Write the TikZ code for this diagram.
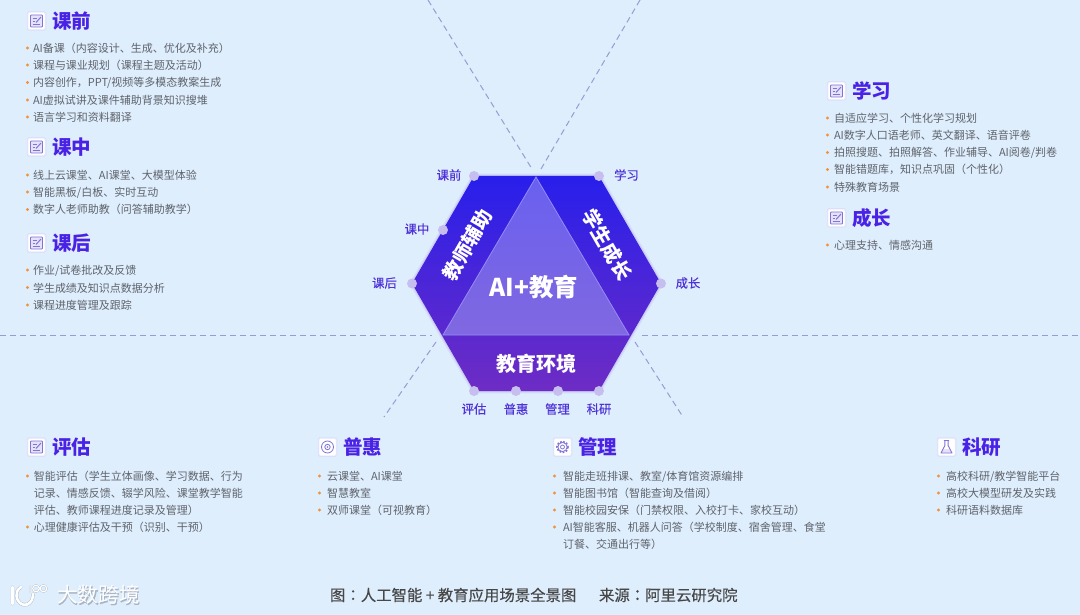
\documentclass[tikz,border=0pt]{standalone}
\usepackage{fontspec}
\setmainfont{Noto Sans CJK SC}
\newfontfamily\medf[FakeBold=0.35]{Noto Sans CJK SC}
\newfontfamily\tcmed[FakeBold=0.35]{Noto Sans CJK TC}
\usetikzlibrary{calc}
\definecolor{bgc}{HTML}{DFEEFC}
\definecolor{ttl}{HTML}{4A22E6}
\definecolor{lbl}{HTML}{4F33D8}
\definecolor{bodyc}{HTML}{5E636C}
\definecolor{orng}{HTML}{F0913C}
\definecolor{dashc}{HTML}{979CD4}
\definecolor{dotc}{HTML}{C6BEEE}
\definecolor{icn}{HTML}{7F75D8}
\definecolor{icnf}{HTML}{E6E2FA}
\definecolor{hextop}{HTML}{281FEB}
\definecolor{hexbot}{HTML}{6E2CC4}
\definecolor{tritop}{HTML}{6960F0}
\definecolor{tribot}{HTML}{8068E0}
\definecolor{triedge}{HTML}{968CF5}
\definecolor{wmshadow}{HTML}{A9B4C4}
\tikzset{
  x=1pt,y=-1pt,
  every node/.style={inner sep=0pt,outer sep=0pt},
  body/.style={anchor=west,text=bodyc,font=\fontsize{11}{12}\selectfont,text height=9pt,text depth=0pt},
  bul/.style={circle,fill=orng,minimum size=3.4pt},
  head/.style={anchor=west,text=ttl,font=\fontsize{19.5}{20}\selectfont\bfseries},
  ibox/.style={fill=white,rounded corners=1.5pt,minimum size=18pt,draw=ttl!30!white,draw opacity=.3,line width=1.5pt},
  dsh/.style={dashc,dash pattern=on 6pt off 4pt,line width=1pt},
  vdot/.style={circle,fill=dotc,minimum size=10pt},
  lab/.style={text=lbl,font=\fontsize{12.3}{13}\selectfont\medf},
  wlab/.style={text=white},
  capt/.style={anchor=west,text=black!72,font=\fontsize{15.4}{16}\selectfont\medf},
  notei/.pic={\draw[icn,fill=icnf,line width=.8pt,rounded corners=.8pt] (-6,-6) rectangle (6,6);
    \draw[icn,line width=.7pt] (-4,-2.5)--(0,-2.5) (-4,0.5)--(-1.5,0.5) (-4,3.5)--(3.5,3.5);
    \draw[icn,line width=1pt] (-.5,1.5)--(4.5,-4);},
  targeti/.pic={\draw[icn,line width=.8pt] (0,0) circle (6);\draw[icn,line width=.8pt] (0,0) circle (2.7);\fill[icn] (0,0) circle (.9);},
  geari/.pic={\draw[icn,line width=1.6pt,dash pattern=on 1.8pt off 1.5pt] (0,0) circle (5.6);\draw[icn,fill=white,line width=.8pt] (0,0) circle (4.6);\draw[icn,line width=.8pt] (0,0) circle (2);},
  flaski/.pic={\fill[icnf] (-3.2,2)--(3.2,2)--(5.5,6)--(-5.5,6)--cycle;
    \draw[icn,line width=.9pt,line join=round] (-2.6,-6.5)--(2.6,-6.5) (-1.6,-6.5)--(-1.6,-1.5)--(-5.5,6)--(5.5,6)--(1.6,-1.5)--(1.6,-6.5);},
}
\begin{document}
\begin{tikzpicture}
\path[use as bounding box,fill=bgc] (0,0) rectangle (1080,615);
% named geometry
\coordinate (hTL) at (474,176); \coordinate (hTR) at (599,176); \coordinate (hR) at (661,283.5);
\coordinate (hBR) at (599,391); \coordinate (hBL) at (474,391); \coordinate (hL) at (412,283.5);
\coordinate (tA) at (536,177); \coordinate (tL) at (443,335); \coordinate (tR) at (629,335);
% dashed guides
\coordinate (d1a) at (0,335); \coordinate (d1b) at (432,335);
\coordinate (d2a) at (642,335); \coordinate (d2b) at (1080,335);
\coordinate (d3a) at (428,0); \coordinate (d3b) at (532,169);
\coordinate (d4a) at (640,0); \coordinate (d4b) at (541,169);
\coordinate (d5a) at (436,342); \coordinate (d5b) at (384,417);
\coordinate (d6a) at (635,342); \coordinate (d6b) at (683,417);
\draw[dsh] (d1a)--(d1b); \draw[dsh] (d2a)--(d2b);
\draw[dsh] (d3a)--(d3b); \draw[dsh] (d4a)--(d4b);
\draw[dsh] (d5a)--(d5b); \draw[dsh] (d6a)--(d6b);
% hexagon
\draw[draw=ttl!50!white,draw opacity=.12,line width=5pt,line join=round] (hTL)--(hTR)--(hR)--(hBR)--(hBL)--(hL)--cycle;
\draw[draw=ttl!50!white,draw opacity=.25,line width=2.5pt,line join=round] (hTL)--(hTR)--(hR)--(hBR)--(hBL)--(hL)--cycle;
\shade[shading=axis,top color=hextop,bottom color=hexbot]
 (hTL)--(hTR)--(hR)--(hBR)--(hBL)--(hL)--cycle;
\shade[shading=axis,top color=tritop,bottom color=tribot,draw=triedge,line width=.8pt]
 (tA)--(tR)--(tL)--cycle;
\node[wlab,font=\fontsize{24.5}{25}\selectfont\bfseries] (ai) at (534,287) {AI+教育};
\node[wlab,font=\fontsize{20}{22}\selectfont\bfseries] (hj) at (536,364) {教育环境};
\node[wlab,font=\fontsize{19.5}{21}\selectfont\bfseries,rotate=60] (js) at (467.5,245) {教师辅助};
\node[wlab,font=\fontsize{19.5}{21}\selectfont\bfseries,rotate=-60] (xs) at (607,245) {学生成长};
% dots
\node[vdot] (v1) at (474,176) {};
\node[vdot] (v2) at (443,230) {};
\node[vdot] (v3) at (412,283.5) {};
\node[vdot] (v4) at (599,176) {};
\node[vdot] (v5) at (661,283.5) {};
\node[vdot] (v6) at (474,391) {};
\node[vdot] (v7) at (516,391) {};
\node[vdot] (v8) at (558,391) {};
\node[vdot] (v9) at (599,391) {};
\node[lab] (n1) at (449,175) {课前};
\node[lab] (n2) at (417,229) {课中};
\node[lab] (n3) at (384.5,283) {课后};
\node[lab] (n4) at (626.5,175) {学习};
\node[lab] (n5) at (688,283) {成长};
\node[lab] (n6) at (474,409) {评估};
\node[lab] (n7) at (516,409) {普惠};
\node[lab] (n8) at (557.5,409) {管理};
\node[lab] (n9) at (599,409) {科研};
% section: 课前
\node[ibox] (ia) at (36.5,21) {}; \pic at (ia) {notei};
\node[head] (ha) at (52,21) {课前};
\foreach \t/\y in {{AI备课（内容设计、生成、优化及补充）}/48,{课程与课业规划（课程主题及活动）}/65,{内容创作，PPT/视频等多模态教案生成}/82.5,{AI虚拟试讲及课件辅助背景知识搜堆}/100,{语言学习和资料翻译}/117}{
 \node[bul] at (27.5,\y) {}; \node[body] at (33,\y) {\t};}
% section: 课中
\node[ibox] (ib) at (36.5,147) {}; \pic at (ib) {notei};
\node[head] (hb) at (52,147) {课中};
\foreach \t/\y in {{线上云课堂、AI课堂、大模型体验}/175,{智能黑板/白板、实时互动}/192,{数字人老师助教（问答辅助教学）}/209.5}{
 \node[bul] at (27.5,\y) {}; \node[body] at (33,\y) {\t};}
% section: 课后
\node[ibox] (ic) at (36.5,243) {}; \pic at (ic) {notei};
\node[head] (hc) at (52,243) {课后};
\foreach \t/\y in {{作业/试卷批改及反馈}/270,{学生成绩及知识点数据分析}/287.5,{课程进度管理及跟踪}/305}{
 \node[bul] at (27.5,\y) {}; \node[body] at (33,\y) {\t};}
% section: 学习
\node[ibox] (id) at (836.5,91) {}; \pic at (id) {notei};
\node[head] (hd) at (852,91) {学习};
\foreach \t/\y in {{自适应学习、个性化学习规划}/118,{AI数字人口语老师、英文翻译、语音评卷}/135,{拍照搜题、拍照解答、作业辅导、AI阅卷/判卷}/152.5,{智能错题库，知识点巩固（个性化）}/169.5,{特殊教育场景}/187}{
 \node[bul] at (827.5,\y) {}; \node[body] at (834,\y) {\t};}
% section: 成长
\node[ibox] (ie) at (836.5,218) {}; \pic at (ie) {notei};
\node[head] (he) at (852,218) {成长};
\node[bul] at (827.5,245) {}; \node[body] (te) at (834,245) {心理支持、情感沟通};
% section: 评估
\node[ibox] (if) at (36.5,447) {}; \pic at (if) {notei};
\node[head] (hf) at (52,447) {评估};
\node[bul] at (27.5,476) {}; \node[body] at (34,476) {智能评估（学生立体画像、学习数据、行为};
\node[body] at (34,493) {记录、情感反馈、辍学风险、课堂教学智能};
\node[body] at (34,510) {评估、教师课程进度记录及管理）};
\node[bul] at (27.5,527) {}; \node[body] at (34,527) {心理健康评估及干预（识别、干预）};
% section: 普惠
\node[ibox] (ig) at (327.5,447) {}; \pic at (ig) {targeti};
\node[head] (hg) at (343,447) {普惠};
\foreach \t/\y in {{云课堂、AI课堂}/476,{智慧教室}/493,{双师课堂（可视教育）}/510}{
 \node[bul] at (319.5,\y) {}; \node[body] at (327,\y) {\t};}
% section: 管理
\node[ibox] (ih) at (562.5,447) {}; \pic at (ih) {geari};
\node[head] (hh) at (578,447) {管理};
\foreach \t/\y in {{智能走班排课、教室/体育馆资源编排}/476,{智能图书馆（智能查询及借阅）}/493,{智能校园安保（门禁权限、入校打卡、家校互动）}/510,{AI智能客服、机器人问答（学校制度、宿舍管理、食堂}/527}{
 \node[bul] at (554.5,\y) {}; \node[body] at (563,\y) {\t};}
\node[body] at (563,544) {订餐、交通出行等）};
% section: 科研
\node[ibox] (ii) at (946.5,447) {}; \pic at (ii) {flaski};
\node[head] (hi) at (962,447) {科研};
\foreach \t/\y in {{高校科研/教学智能平台}/476,{高校大模型研发及实践}/493,{科研语料数据库}/510}{
 \node[bul] at (938.5,\y) {}; \node[body] at (946,\y) {\t};}
% caption
\node[capt] (cap) at (330,595) {图{\tcmed ：}人工智能 + 教育应用场景全景图};
\node[capt] (src) at (599,595) {来源{\tcmed ：}阿里云研究院};
% watermark
\node[anchor=west,text=wmshadow,font=\fontsize{20.7}{22}\selectfont\medf] (wms) at (57.6,595.6) {大数跨境};
\node[anchor=west,text=white,font=\fontsize{20.7}{22}\selectfont] (wm) at (57,595) {大数跨境};
\foreach \c/\w/\v in {wmshadow/3.4/1.8,white/2.6/1.2}{
 \draw[\c,line width=\w pt,line cap=round] (12.5,587)--(12.5,604)
   (21,587) .. controls (17,590) and (16,593) .. (16.5,596) .. controls (17,602) and (22,606) .. (27,604.5) .. controls (31,603) and (33,599) .. (33,594);
 \draw[\c,line width=\v pt] (30,585)--(30,592) (36,588.5) circle (3.3) (43.5,588.5) circle (3.3);
}
\end{tikzpicture}
\end{document}
